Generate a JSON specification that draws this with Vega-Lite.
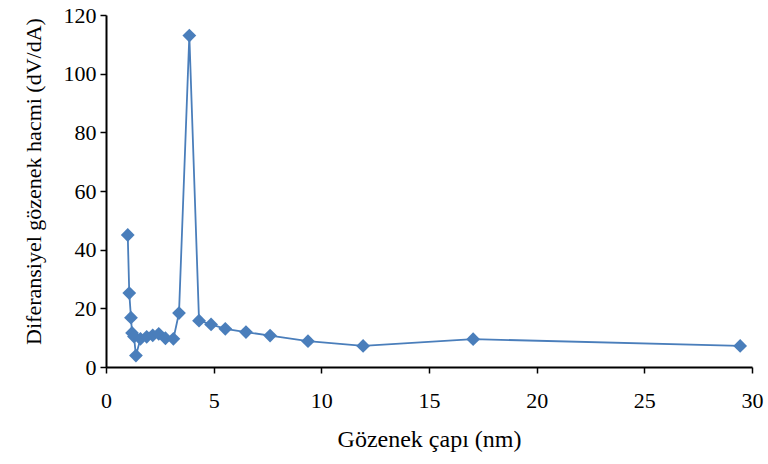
{
  "$schema": "https://vega.github.io/schema/vega-lite/v6.json",
  "width": 646,
  "height": 352,
  "autosize": {"type": "none"},
  "padding": {"left": 106, "top": 15, "right": 16, "bottom": 97},
  "background": "white",
  "config": {
    "view": {"stroke": null},
    "font": "Liberation Serif",
    "axis": {
      "grid": false,
      "domainColor": "black",
      "domainWidth": 2,
      "tickColor": "black",
      "tickWidth": 1.5,
      "tickSize": 6,
      "labelColor": "black",
      "labelFont": "Liberation Serif",
      "labelFontSize": 22,
      "labelFlush": false,
      "labelOverlap": false,
      "titleColor": "black",
      "titleFont": "Liberation Serif",
      "titleFontWeight": "normal"
    }
  },
  "data": {
    "values": [
      {"d": 1.01, "v": 45.0},
      {"d": 1.08, "v": 25.2},
      {"d": 1.16, "v": 16.8},
      {"d": 1.21, "v": 11.6},
      {"d": 1.30, "v": 10.4},
      {"d": 1.39, "v": 3.9},
      {"d": 1.60, "v": 9.6},
      {"d": 1.89, "v": 10.3},
      {"d": 2.17, "v": 10.8},
      {"d": 2.45, "v": 11.3},
      {"d": 2.76, "v": 9.8},
      {"d": 3.13, "v": 9.6},
      {"d": 3.39, "v": 18.4},
      {"d": 3.87, "v": 113.0},
      {"d": 4.32, "v": 15.8},
      {"d": 4.88, "v": 14.5},
      {"d": 5.54, "v": 13.0},
      {"d": 6.50, "v": 11.9},
      {"d": 7.62, "v": 10.7},
      {"d": 9.38, "v": 8.8},
      {"d": 11.94, "v": 7.2},
      {"d": 17.05, "v": 9.5},
      {"d": 29.45, "v": 7.2}
    ]
  },
  "mark": {
    "type": "line",
    "color": "#4a7ebb",
    "strokeWidth": 1.8,
    "point": {"shape": "diamond", "size": 190, "filled": true, "color": "#4a7ebb", "opacity": 1}
  },
  "encoding": {
    "x": {
      "field": "d",
      "type": "quantitative",
      "scale": {"domain": [0, 30], "nice": false},
      "axis": {"values": [0, 5, 10, 15, 20, 25, 30], "title": "Gözenek çapı (nm)", "titleFontSize": 24, "labelPadding": 17, "titlePadding": 16},
      "sort": null
    },
    "y": {
      "field": "v",
      "type": "quantitative",
      "scale": {"domain": [0, 120], "nice": false},
      "axis": {"values": [0, 20, 40, 60, 80, 100, 120], "title": "Diferansiyel gözenek hacmi (dV/dA)", "titleFontSize": 22, "titleY": 166, "labelPadding": 4, "titlePadding": 18}
    }
  }
}
